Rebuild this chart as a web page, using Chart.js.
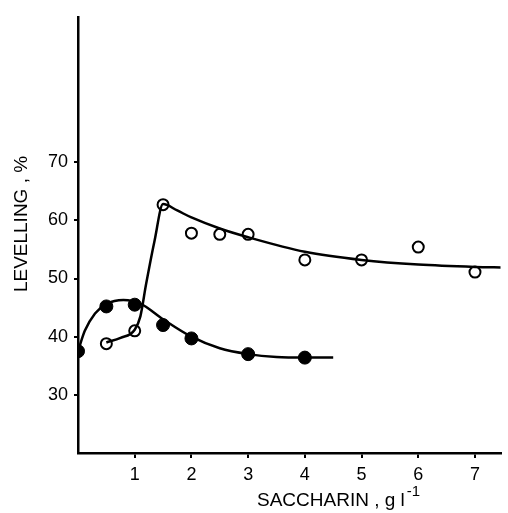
<!DOCTYPE html>
<html>
<head>
<meta charset="utf-8">
<script src="https://cdn.jsdelivr.net/npm/chart.js@4"></script>
<style>
  html, body { margin: 0; padding: 0; background: #fff; }
  #wrap { width: 508px; height: 513px; }
</style>
</head>
<body>
<div id="wrap"><canvas id="chart"></canvas></div>
<script>
// measured points
const filledX = [0, 0.5, 1.0, 1.5, 2.0, 3.0, 4.0];
const filledY = [37.5, 45.2, 45.5, 42.0, 39.7, 37.0, 36.4];
const openX = [0.5, 1.0, 1.5, 2.0, 2.5, 3.0, 4.0, 5.0, 6.0, 7.0];
const openY = [38.8, 41.0, 62.7, 57.8, 57.6, 57.6, 53.2, 53.2, 55.4, 51.1];

// hand drawn fit curves
const filledCurveX = [0, 0.12, 0.3, 0.5, 0.8, 1.1, 1.5, 2.0, 2.5, 3.0, 3.5, 4.0, 4.5];
const filledCurveY = [37.5, 41.0, 44.0, 45.6, 46.3, 45.7, 43.0, 40.0, 38.0, 37.0, 36.5, 36.4, 36.4];
const openCurveX = [0.5, 0.75, 1.0, 1.1, 1.2, 1.35, 1.5, 1.75, 2.0, 2.5, 3.0, 4.0, 5.0, 6.0, 7.0, 7.5];
const openCurveY = [39.0, 39.8, 41.2, 43.5, 49.0, 56.5, 62.8, 61.7, 60.5, 58.6, 57.1, 54.6, 53.2, 52.4, 52.0, 51.9];

const xTicks = [1, 2, 3, 4, 5, 6, 7];
const yTicks = [30, 40, 50, 60, 70];

const xTitle = "SACCHARIN , g l";
const xTitleSup = "-1";
const yTitle = "LEVELLING , %";

const fontFam = "'Liberation Sans', Arial, sans-serif";

function pts(xs, ys) {
  return xs.map((x, i) => ({ x: x, y: ys[i] }));
}

const titles = {
  id: "titles",
  afterDraw(chart) {
    const ctx = chart.ctx;
    ctx.save();
    ctx.fillStyle = "#000";
    ctx.font = "19px " + fontFam;
    ctx.textBaseline = "alphabetic";
    ctx.textAlign = "left";
    ctx.fillText(xTitle, 257, 506);
    const w = ctx.measureText(xTitle).width;
    ctx.font = "15px " + fontFam;
    ctx.fillText(xTitleSup, 257 + w + 2, 496);

    ctx.translate(27, 224);
    ctx.rotate(-Math.PI / 2);
    ctx.font = "19px " + fontFam;
    ctx.textAlign = "center";
    ctx.fillText(yTitle, 0, 0);
    ctx.restore();
  }
};

const data = {
  datasets: [
    {
      label: "filled curve",
      data: pts(filledCurveX, filledCurveY),
      showLine: true,
      borderColor: "#000",
      borderWidth: 2.5,
      pointRadius: 0,
      cubicInterpolationMode: "monotone"
    },
    {
      label: "open curve",
      data: pts(openCurveX, openCurveY),
      showLine: true,
      borderColor: "#000",
      borderWidth: 2.5,
      pointRadius: 0,
      cubicInterpolationMode: "monotone"
    },
    {
      label: "filled",
      data: pts(filledX, filledY),
      showLine: false,
      backgroundColor: "#000",
      borderColor: "#000",
      pointRadius: 6.5,
      pointBorderWidth: 1
    },
    {
      label: "open",
      data: pts(openX, openY),
      showLine: false,
      backgroundColor: "#fff",
      borderColor: "#000",
      pointRadius: 5.5,
      pointBorderWidth: 2
    }
  ]
};

const config = {
  type: "scatter",
  data: data,
  options: {
    responsive: true,
    maintainAspectRatio: false,
    animation: false,
    layout: { padding: { top: 12, right: 1, left: 0, bottom: 0 } },
    plugins: {
      legend: { display: false },
      tooltip: { enabled: false }
    },
    scales: {
      x: {
        type: "linear",
        min: 0,
        max: 7.45,
        afterBuildTicks: (s) => { s.ticks = xTicks.map(v => ({ value: v })); },
        afterFit: (s) => { s.height = 60; },
        border: { color: "#000", width: 2.5 },
        grid: { drawOnChartArea: false, color: "#000", tickLength: 5, lineWidth: 2 },
        ticks: {
          color: "#000",
          padding: 6,
          maxRotation: 0,
          font: { family: fontFam, size: 18 }
        }
      },
      y: {
        type: "linear",
        min: 20,
        max: 95,
        afterBuildTicks: (s) => { s.ticks = yTicks.map(v => ({ value: v })); },
        afterFit: (s) => { s.width = 78; },
        border: { color: "#000", width: 2.5 },
        grid: { drawOnChartArea: false, color: "#000", tickLength: 4, lineWidth: 2 },
        ticks: {
          color: "#000",
          padding: 6,
          font: { family: fontFam, size: 18 }
        }
      }
    }
  },
  plugins: [titles]
};

const chart = new Chart(document.getElementById("chart"), config);
</script>
</body>
</html>
